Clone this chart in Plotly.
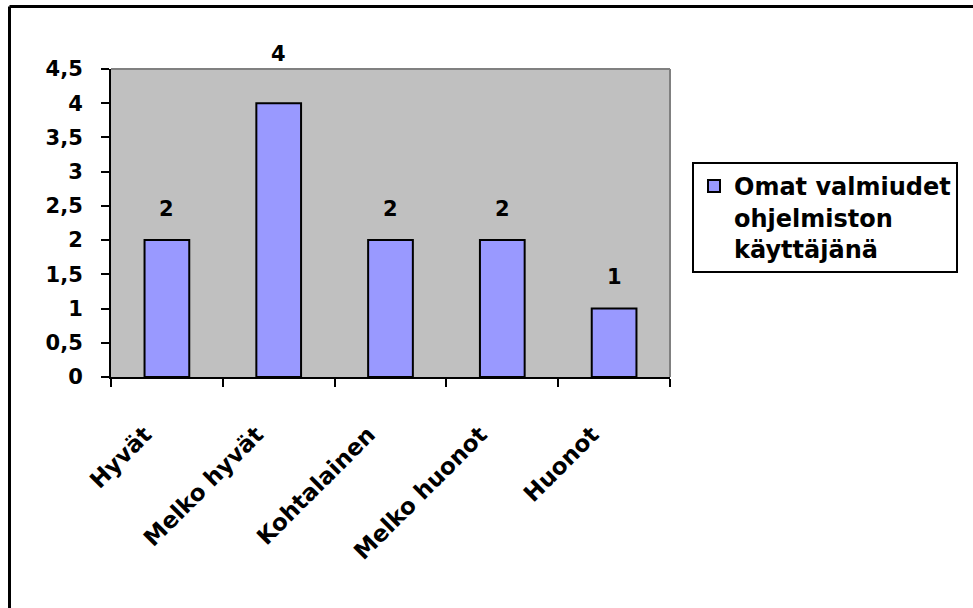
import plotly.graph_objects as go

categories = ["Hyvät", "Melko hyvät", "Kohtalainen", "Melko huonot", "Huonot"]
values = [2, 4, 2, 2, 1]
series_name = "Omat valmiudet<br>ohjelmiston<br>käyttäjänä"
y_ticks = [0, 0.5, 1, 1.5, 2, 2.5, 3, 3.5, 4, 4.5]

FAMILY = "DejaVu Sans, Verdana, sans-serif"
TICK_FONT = dict(family=FAMILY, size=21, color="black", weight="bold")
XTICK_FONT = dict(family=FAMILY, size=23, color="black", weight="bold")
LEGEND_FONT = dict(family=FAMILY, size=24, color="black", weight="bold")

W, H = 973, 608
L, R, T, B = 111, 303, 69, 231
pw, ph = W - L - R, H - T - B

def px_x(p):
    return (p - L) / pw

def px_y(p):
    return (H - B - p) / ph

fig = go.Figure()
fig.add_trace(go.Bar(
    x=categories,
    y=values,
    name=series_name,
    marker=dict(color="#9999FF", line=dict(color="black", width=2)),
    showlegend=True,
))

# value labels above each bar
label_lift = [31, 49, 31, 31, 32]
for cat, v, lift in zip(categories, values, label_lift):
    fig.add_annotation(
        x=cat, y=v, text=str(v), showarrow=False,
        yanchor="middle", yshift=lift, font=TICK_FONT,
    )

fig.update_layout(
    width=W, height=H,
    margin=dict(l=L, r=R, t=T, b=B, pad=0),
    paper_bgcolor="white",
    plot_bgcolor="#C0C0C0",
    separators=", ",
    font=TICK_FONT,
    bargap=0.6,
    showlegend=True,
    legend=dict(
        x=px_x(692), y=px_y(162), xanchor="left", yanchor="top",
        bordercolor="black", borderwidth=2, bgcolor="white",
        font=LEGEND_FONT, itemwidth=30, valign="top",
    ),
    xaxis=dict(
        type="category", tickson="boundaries", ticks="outside", ticklen=8,
        tickwidth=2, tickcolor="black", showline=True, linecolor="black",
        linewidth=2, tickangle=-45, showgrid=False, tickfont=XTICK_FONT,
        ticklabelstandoff=33, ticklabelshift=-22,
    ),
    yaxis=dict(
        range=[0, 4.5], tickvals=y_ticks, ticks="outside", ticklen=8,
        tickwidth=2, tickcolor="black", showline=True, linecolor="black",
        linewidth=2, showgrid=False, zeroline=False, tickfont=TICK_FONT,
        ticklabelstandoff=14,
    ),
    shapes=[
        # grey frame along the top and right of the plot area
        dict(type="line", xref="paper", yref="paper", x0=0, x1=1, y0=1, y1=1,
             line=dict(color="#808080", width=2), layer="below"),
        dict(type="line", xref="paper", yref="paper", x0=1, x1=1, y0=0, y1=1,
             line=dict(color="#808080", width=2), layer="below"),
        # chart-area border (top and left edges)
        dict(type="line", xref="paper", yref="paper",
             x0=px_x(9.5), x1=px_x(980), y0=px_y(6.5), y1=px_y(6.5),
             line=dict(color="black", width=3)),
        dict(type="line", xref="paper", yref="paper",
             x0=px_x(9.5), x1=px_x(9.5), y0=px_y(6.5), y1=px_y(620),
             line=dict(color="black", width=3)),
    ],
)

fig.write_html("out.html")
